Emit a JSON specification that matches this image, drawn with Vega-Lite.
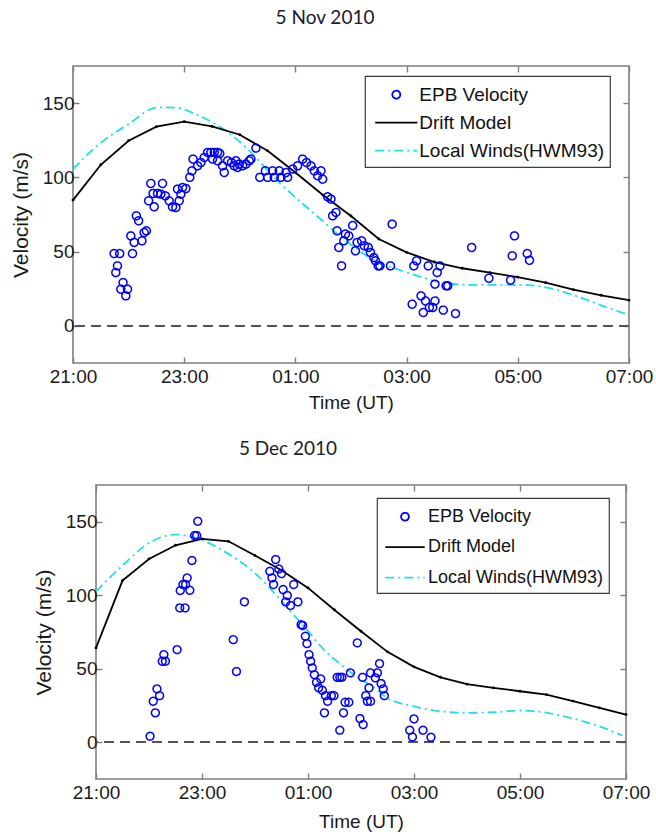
{
"$schema": "https://vega.github.io/schema/vega-lite/v6.json",
"padding": {"left": 8, "top": 8, "right": 2, "bottom": 2},
"background": "white",
"config": {
  "view": {"stroke": "#7f7f7f", "strokeWidth": 1.6},
  "axis": {"labelFont": "Liberation Sans", "titleFont": "Liberation Sans", "labelFontSize": 19, "titleFontSize": 19, "labelColor": "#1a1a1a", "titleColor": "#1a1a1a", "titleFontWeight": "normal", "grid": false, "domain": false, "tickColor": "#7f7f7f", "tickWidth": 1.4, "labelFlush": false, "labelOverlap": false},
  "legend": {"strokeWidth": 1.2}
},
"resolve": {"scale": {"color": "independent", "shape": "independent", "strokeDash": "independent"}, "legend": {"color": "independent", "shape": "independent", "strokeDash": "independent"}},
"datasets": {
  "nov": [
    {"series":"Drift Model","t":21.0,"v":84.7},{"series":"Drift Model","t":21.5,"v":108.5},{"series":"Drift Model","t":22.0,"v":124.7},{"series":"Drift Model","t":22.5,"v":134.1},{"series":"Drift Model","t":23.0,"v":137.5},{"series":"Drift Model","t":23.5,"v":134.3},{"series":"Drift Model","t":24.0,"v":128.7},{"series":"Drift Model","t":24.5,"v":117.9},{"series":"Drift Model","t":25.0,"v":103.3},{"series":"Drift Model","t":25.5,"v":88},{"series":"Drift Model","t":26.0,"v":74},{"series":"Drift Model","t":26.5,"v":58.5},{"series":"Drift Model","t":27.0,"v":49.5},{"series":"Drift Model","t":27.5,"v":43},{"series":"Drift Model","t":28.0,"v":38.8},{"series":"Drift Model","t":28.5,"v":35.9},{"series":"Drift Model","t":29.0,"v":32.8},{"series":"Drift Model","t":29.5,"v":29.1},{"series":"Drift Model","t":30.0,"v":24.4},{"series":"Drift Model","t":30.5,"v":20.6},{"series":"Drift Model","t":31.0,"v":17.3},
    {"series":"Local Winds(HWM93)","t":21.0,"v":105.6},{"series":"Local Winds(HWM93)","t":21.47,"v":122.4},{"series":"Local Winds(HWM93)","t":22.0,"v":135.9},{"series":"Local Winds(HWM93)","t":22.52,"v":147.1},{"series":"Local Winds(HWM93)","t":22.85,"v":147},{"series":"Local Winds(HWM93)","t":23.2,"v":142.6},{"series":"Local Winds(HWM93)","t":23.51,"v":137},{"series":"Local Winds(HWM93)","t":23.87,"v":128},{"series":"Local Winds(HWM93)","t":24.23,"v":115.7},{"series":"Local Winds(HWM93)","t":24.59,"v":101},{"series":"Local Winds(HWM93)","t":25.0,"v":86.5},{"series":"Local Winds(HWM93)","t":25.42,"v":73},{"series":"Local Winds(HWM93)","t":25.85,"v":59},{"series":"Local Winds(HWM93)","t":26.1,"v":52},{"series":"Local Winds(HWM93)","t":26.41,"v":44},{"series":"Local Winds(HWM93)","t":26.83,"v":38.2},{"series":"Local Winds(HWM93)","t":27.25,"v":33},{"series":"Local Winds(HWM93)","t":27.73,"v":28.5},{"series":"Local Winds(HWM93)","t":28.21,"v":27.6},{"series":"Local Winds(HWM93)","t":28.69,"v":27.6},{"series":"Local Winds(HWM93)","t":29.17,"v":27.4},{"series":"Local Winds(HWM93)","t":29.65,"v":24.7},{"series":"Local Winds(HWM93)","t":30.13,"v":19.1},{"series":"Local Winds(HWM93)","t":30.61,"v":12.3},{"series":"Local Winds(HWM93)","t":31.0,"v":7.4},
    {"series":"EPB Velocity","t":21.74,"v":48.7},{"series":"EPB Velocity","t":21.84,"v":48.7},{"series":"EPB Velocity","t":21.8,"v":40.4},{"series":"EPB Velocity","t":21.77,"v":35.9},{"series":"EPB Velocity","t":21.9,"v":29.2},{"series":"EPB Velocity","t":21.86,"v":24.7},{"series":"EPB Velocity","t":21.98,"v":24.7},{"series":"EPB Velocity","t":21.95,"v":20.2},{"series":"EPB Velocity","t":22.07,"v":48.7},{"series":"EPB Velocity","t":22.04,"v":60.6},{"series":"EPB Velocity","t":22.1,"v":56.2},{"series":"EPB Velocity","t":22.14,"v":74.1},{"series":"EPB Velocity","t":22.18,"v":70.8},{"series":"EPB Velocity","t":22.24,"v":57.3},{"series":"EPB Velocity","t":22.28,"v":62.9},{"series":"EPB Velocity","t":22.32,"v":64},{"series":"EPB Velocity","t":22.36,"v":84.2},{"series":"EPB Velocity","t":22.4,"v":95.9},{"series":"EPB Velocity","t":22.61,"v":95.9},{"series":"EPB Velocity","t":22.44,"v":89.2},{"series":"EPB Velocity","t":22.52,"v":89.2},{"series":"EPB Velocity","t":22.46,"v":80.2},{"series":"EPB Velocity","t":22.58,"v":88.7},{"series":"EPB Velocity","t":22.66,"v":87.6},{"series":"EPB Velocity","t":22.73,"v":84.2},{"series":"EPB Velocity","t":22.79,"v":80.2},{"series":"EPB Velocity","t":22.85,"v":79.7},{"series":"EPB Velocity","t":22.91,"v":84.2},{"series":"EPB Velocity","t":22.94,"v":88.7},{"series":"EPB Velocity","t":22.88,"v":92.1},{"series":"EPB Velocity","t":22.97,"v":93.2},{"series":"EPB Velocity","t":23.03,"v":92.5},{"series":"EPB Velocity","t":23.1,"v":100},{"series":"EPB Velocity","t":23.14,"v":104.4},{"series":"EPB Velocity","t":23.16,"v":112.3},{"series":"EPB Velocity","t":23.24,"v":107.8},{"series":"EPB Velocity","t":23.3,"v":110},{"series":"EPB Velocity","t":23.36,"v":113.4},{"series":"EPB Velocity","t":23.42,"v":116.8},{"series":"EPB Velocity","t":23.48,"v":116.8},{"series":"EPB Velocity","t":23.54,"v":116.8},{"series":"EPB Velocity","t":23.6,"v":116.8},{"series":"EPB Velocity","t":23.64,"v":116.1},{"series":"EPB Velocity","t":23.51,"v":112.3},{"series":"EPB Velocity","t":23.6,"v":111.2},{"series":"EPB Velocity","t":23.69,"v":107.8},{"series":"EPB Velocity","t":23.72,"v":103.3},{"series":"EPB Velocity","t":23.78,"v":111.2},{"series":"EPB Velocity","t":23.85,"v":110},{"series":"EPB Velocity","t":23.93,"v":111.2},{"series":"EPB Velocity","t":23.99,"v":108.9},{"series":"EPB Velocity","t":24.05,"v":107.8},{"series":"EPB Velocity","t":24.11,"v":108.9},{"series":"EPB Velocity","t":24.17,"v":111.2},{"series":"EPB Velocity","t":24.2,"v":112.3},{"series":"EPB Velocity","t":23.9,"v":107.8},{"series":"EPB Velocity","t":23.96,"v":106.7},{"series":"EPB Velocity","t":24.29,"v":119.7},{"series":"EPB Velocity","t":24.36,"v":100},{"series":"EPB Velocity","t":24.5,"v":100},{"series":"EPB Velocity","t":24.62,"v":100},{"series":"EPB Velocity","t":24.74,"v":100},{"series":"EPB Velocity","t":24.86,"v":100},{"series":"EPB Velocity","t":24.46,"v":104.4},{"series":"EPB Velocity","t":24.59,"v":104.4},{"series":"EPB Velocity","t":24.71,"v":104.4},{"series":"EPB Velocity","t":24.83,"v":103.3},{"series":"EPB Velocity","t":24.95,"v":105.6},{"series":"EPB Velocity","t":25.04,"v":107.8},{"series":"EPB Velocity","t":25.13,"v":112.3},{"series":"EPB Velocity","t":25.2,"v":110},{"series":"EPB Velocity","t":25.28,"v":107.8},{"series":"EPB Velocity","t":25.34,"v":104.4},{"series":"EPB Velocity","t":25.4,"v":101.1},{"series":"EPB Velocity","t":25.46,"v":104.4},{"series":"EPB Velocity","t":25.49,"v":98.8},{"series":"EPB Velocity","t":25.58,"v":86.9},{"series":"EPB Velocity","t":25.64,"v":85.4},{"series":"EPB Velocity","t":25.67,"v":74.1},{"series":"EPB Velocity","t":25.73,"v":76.4},{"series":"EPB Velocity","t":25.75,"v":64},{"series":"EPB Velocity","t":25.78,"v":52.8},{"series":"EPB Velocity","t":25.83,"v":40.4},{"series":"EPB Velocity","t":25.87,"v":57.3},{"series":"EPB Velocity","t":25.96,"v":60.6},{"series":"EPB Velocity","t":25.9,"v":61.8},{"series":"EPB Velocity","t":26.03,"v":67.6},{"series":"EPB Velocity","t":26.08,"v":50.5},{"series":"EPB Velocity","t":26.11,"v":56.2},{"series":"EPB Velocity","t":26.19,"v":57.3},{"series":"EPB Velocity","t":26.24,"v":53.9},{"series":"EPB Velocity","t":26.31,"v":52.8},{"series":"EPB Velocity","t":26.35,"v":49.4},{"series":"EPB Velocity","t":26.41,"v":46},{"series":"EPB Velocity","t":26.44,"v":43.8},{"series":"EPB Velocity","t":26.49,"v":40.4},{"series":"EPB Velocity","t":26.52,"v":40.4},{"series":"EPB Velocity","t":26.71,"v":40.4},{"series":"EPB Velocity","t":26.74,"v":68.5},{"series":"EPB Velocity","t":27.1,"v":14.6},{"series":"EPB Velocity","t":27.26,"v":20.2},{"series":"EPB Velocity","t":27.13,"v":40.4},{"series":"EPB Velocity","t":27.18,"v":43.8},{"series":"EPB Velocity","t":27.3,"v":9},{"series":"EPB Velocity","t":27.34,"v":16.8},{"series":"EPB Velocity","t":27.41,"v":12.4},{"series":"EPB Velocity","t":27.47,"v":12.4},{"series":"EPB Velocity","t":27.51,"v":16.8},{"series":"EPB Velocity","t":27.39,"v":40.4},{"series":"EPB Velocity","t":27.51,"v":28.1},{"series":"EPB Velocity","t":27.55,"v":35.9},{"series":"EPB Velocity","t":27.6,"v":40.4},{"series":"EPB Velocity","t":27.66,"v":10.6},{"series":"EPB Velocity","t":27.71,"v":27},{"series":"EPB Velocity","t":27.74,"v":27},{"series":"EPB Velocity","t":27.88,"v":8.3},{"series":"EPB Velocity","t":28.17,"v":52.8},{"series":"EPB Velocity","t":28.48,"v":32.1},{"series":"EPB Velocity","t":28.87,"v":30.8},{"series":"EPB Velocity","t":28.9,"v":47.2},{"series":"EPB Velocity","t":28.94,"v":60.6},{"series":"EPB Velocity","t":29.17,"v":48.7},{"series":"EPB Velocity","t":29.21,"v":44.2}
  ],
  "dec": [
    {"series":"Drift Model","t":21.0,"v":64.2},{"series":"Drift Model","t":21.5,"v":110},{"series":"Drift Model","t":22.0,"v":124.7},{"series":"Drift Model","t":22.5,"v":134},{"series":"Drift Model","t":23.0,"v":138.4},{"series":"Drift Model","t":23.5,"v":136.7},{"series":"Drift Model","t":24.0,"v":127},{"series":"Drift Model","t":24.5,"v":117},{"series":"Drift Model","t":25.0,"v":105},{"series":"Drift Model","t":25.5,"v":90},{"series":"Drift Model","t":26.0,"v":75.5},{"series":"Drift Model","t":26.5,"v":61.5},{"series":"Drift Model","t":27.0,"v":51.3},{"series":"Drift Model","t":27.5,"v":44.2},{"series":"Drift Model","t":28.0,"v":39.5},{"series":"Drift Model","t":28.5,"v":37},{"series":"Drift Model","t":29.0,"v":34.7},{"series":"Drift Model","t":29.5,"v":32.4},{"series":"Drift Model","t":30.0,"v":28},{"series":"Drift Model","t":30.5,"v":23.4},{"series":"Drift Model","t":31.0,"v":18.8},
    {"series":"Local Winds(HWM93)","t":21.0,"v":102.7},{"series":"Local Winds(HWM93)","t":21.52,"v":120.9},{"series":"Local Winds(HWM93)","t":22.0,"v":135.6},{"series":"Local Winds(HWM93)","t":22.5,"v":141.3},{"series":"Local Winds(HWM93)","t":23.0,"v":137.5},{"series":"Local Winds(HWM93)","t":23.41,"v":130},{"series":"Local Winds(HWM93)","t":23.92,"v":117.5},{"series":"Local Winds(HWM93)","t":24.42,"v":99.3},{"series":"Local Winds(HWM93)","t":24.67,"v":89},{"series":"Local Winds(HWM93)","t":24.92,"v":79},{"series":"Local Winds(HWM93)","t":25.3,"v":63},{"series":"Local Winds(HWM93)","t":25.74,"v":49.5},{"series":"Local Winds(HWM93)","t":26.02,"v":42},{"series":"Local Winds(HWM93)","t":26.18,"v":39},{"series":"Local Winds(HWM93)","t":26.49,"v":30.2},{"series":"Local Winds(HWM93)","t":26.98,"v":24.5},{"series":"Local Winds(HWM93)","t":27.48,"v":21.1},{"series":"Local Winds(HWM93)","t":27.98,"v":20},{"series":"Local Winds(HWM93)","t":28.49,"v":20.4},{"series":"Local Winds(HWM93)","t":28.98,"v":21.6},{"series":"Local Winds(HWM93)","t":29.45,"v":20.4},{"series":"Local Winds(HWM93)","t":29.95,"v":16.6},{"series":"Local Winds(HWM93)","t":30.49,"v":10.9},{"series":"Local Winds(HWM93)","t":30.93,"v":4.6},
    {"series":"EPB Velocity","t":22.02,"v":4.1},{"series":"EPB Velocity","t":22.12,"v":20},{"series":"EPB Velocity","t":22.08,"v":27.9},{"series":"EPB Velocity","t":22.15,"v":36.3},{"series":"EPB Velocity","t":22.2,"v":31.7},{"series":"EPB Velocity","t":22.25,"v":55.1},{"series":"EPB Velocity","t":22.31,"v":55.1},{"series":"EPB Velocity","t":22.28,"v":59.6},{"series":"EPB Velocity","t":22.53,"v":63},{"series":"EPB Velocity","t":22.58,"v":91.4},{"series":"EPB Velocity","t":22.68,"v":91.4},{"series":"EPB Velocity","t":22.59,"v":103.2},{"series":"EPB Velocity","t":22.64,"v":107.3},{"series":"EPB Velocity","t":22.72,"v":111.8},{"series":"EPB Velocity","t":22.77,"v":103.4},{"series":"EPB Velocity","t":22.69,"v":107.3},{"series":"EPB Velocity","t":22.81,"v":123.6},{"series":"EPB Velocity","t":22.86,"v":140.6},{"series":"EPB Velocity","t":22.9,"v":140.6},{"series":"EPB Velocity","t":22.92,"v":150.3},{"series":"EPB Velocity","t":23.59,"v":69.8},{"series":"EPB Velocity","t":23.65,"v":48.1},{"series":"EPB Velocity","t":23.8,"v":95.5},{"series":"EPB Velocity","t":24.28,"v":116.3},{"series":"EPB Velocity","t":24.32,"v":111.8},{"series":"EPB Velocity","t":24.35,"v":107.3},{"series":"EPB Velocity","t":24.39,"v":124.3},{"series":"EPB Velocity","t":24.45,"v":117.9},{"series":"EPB Velocity","t":24.5,"v":114.7},{"series":"EPB Velocity","t":24.53,"v":103.9},{"series":"EPB Velocity","t":24.61,"v":99.8},{"series":"EPB Velocity","t":24.58,"v":95.5},{"series":"EPB Velocity","t":24.67,"v":93},{"series":"EPB Velocity","t":24.73,"v":107.3},{"series":"EPB Velocity","t":24.81,"v":95.5},{"series":"EPB Velocity","t":24.87,"v":80},{"series":"EPB Velocity","t":24.9,"v":79.4},{"series":"EPB Velocity","t":24.95,"v":72.1},{"series":"EPB Velocity","t":24.98,"v":67.1},{"series":"EPB Velocity","t":25.02,"v":59.6},{"series":"EPB Velocity","t":25.05,"v":55.1},{"series":"EPB Velocity","t":25.08,"v":50.6},{"series":"EPB Velocity","t":25.12,"v":46},{"series":"EPB Velocity","t":25.16,"v":40.8},{"series":"EPB Velocity","t":25.24,"v":43.1},{"series":"EPB Velocity","t":25.2,"v":37},{"series":"EPB Velocity","t":25.27,"v":35.4},{"series":"EPB Velocity","t":25.33,"v":31.7},{"series":"EPB Velocity","t":25.37,"v":27.9},{"series":"EPB Velocity","t":25.31,"v":20},{"series":"EPB Velocity","t":25.44,"v":31.7},{"series":"EPB Velocity","t":25.49,"v":31.7},{"series":"EPB Velocity","t":25.55,"v":44.2},{"series":"EPB Velocity","t":25.6,"v":44.2},{"series":"EPB Velocity","t":25.64,"v":44.2},{"series":"EPB Velocity","t":25.6,"v":8.2},{"series":"EPB Velocity","t":25.7,"v":27.2},{"series":"EPB Velocity","t":25.67,"v":20},{"series":"EPB Velocity","t":25.77,"v":27.2},{"series":"EPB Velocity","t":25.8,"v":47.2},{"series":"EPB Velocity","t":25.93,"v":67.6},{"series":"EPB Velocity","t":25.98,"v":16.1},{"series":"EPB Velocity","t":26.04,"v":12},{"series":"EPB Velocity","t":26.03,"v":44.2},{"series":"EPB Velocity","t":26.09,"v":31.7},{"series":"EPB Velocity","t":26.15,"v":37},{"series":"EPB Velocity","t":26.18,"v":47.2},{"series":"EPB Velocity","t":26.12,"v":27.9},{"series":"EPB Velocity","t":26.18,"v":27.9},{"series":"EPB Velocity","t":26.27,"v":43.8},{"series":"EPB Velocity","t":26.31,"v":47.2},{"series":"EPB Velocity","t":26.35,"v":53.5},{"series":"EPB Velocity","t":26.38,"v":39.9},{"series":"EPB Velocity","t":26.42,"v":36.3},{"series":"EPB Velocity","t":26.44,"v":31.7},{"series":"EPB Velocity","t":26.92,"v":8.2},{"series":"EPB Velocity","t":27.0,"v":15.9},{"series":"EPB Velocity","t":26.97,"v":3.6},{"series":"EPB Velocity","t":27.17,"v":8.2},{"series":"EPB Velocity","t":27.32,"v":3.4}
  ]
},
"spacing": 26,
"vconcat": [
  {"spacing": 0,
   "resolve": {"scale": {"color": "independent", "shape": "independent", "strokeDash": "independent"}, "legend": {"color": "independent", "shape": "independent", "strokeDash": "independent"}},
   "hconcat": [
    {"width": 1, "height": 10, "data": {"values": []}, "mark": "point", "view": {"stroke": null}},
    {"width": 556, "height": 297, "data": {"name": "nov"},
     "title": {"text": "5 Nov 2010", "font": "Lato", "fontSize": 19, "fontWeight": "normal", "color": "#1b1b2b", "anchor": "middle", "frame": "group", "dx": -26, "baseline": "alphabetic", "offset": 22},
     "resolve": {"axis": {"x": "independent", "y": "independent"}},
     "layer": [
      {"mark": {"type": "rule", "color": "#555555", "strokeDash": [10, 6], "strokeWidth": 1.3},
       "encoding": {"y": {"datum": 0, "type": "quantitative", "scale": {"domain": [-25, 175], "nice": false, "zero": false}, "axis": null}}},
      {"transform": [{"filter": "datum.series === 'Local Winds(HWM93)'"}],
       "mark": {"type": "line", "interpolate": "monotone", "color": "#1fe0e6", "strokeWidth": 1.8, "strokeDash": [9, 4, 2, 4]},
       "encoding": {
         "x": {"field": "t", "type": "quantitative", "scale": {"domain": [21, 31], "nice": false, "zero": false}, "axis": {"orient": "top", "values": [21, 23, 25, 27, 29, 31], "labels": false, "title": null, "tickSize": -6}},
         "y": {"field": "v", "type": "quantitative", "scale": {"domain": [-25, 175], "nice": false, "zero": false}, "axis": {"orient": "right", "values": [0, 50, 100, 150], "labels": false, "title": null, "tickSize": -6, "minExtent": 0}}}},
      {"transform": [{"filter": "datum.series === 'Drift Model'"}],
       "mark": {"type": "line", "color": "black", "strokeWidth": 1.8, "point": {"filled": true, "size": 8, "color": "black"}},
       "encoding": {
         "x": {"field": "t", "type": "quantitative", "axis": null},
         "y": {"field": "v", "type": "quantitative", "axis": null}}},
      {"transform": [{"filter": "datum.series === 'EPB Velocity'"}],
       "mark": {"type": "point", "filled": false, "size": 548, "strokeWidth": 1.5, "opacity": 1},
       "encoding": {
         "x": {"field": "t", "type": "quantitative", "axis": {"orient": "bottom", "values": [21, 23, 25, 27, 29, 31], "labelExpr": "(datum.value % 24 < 10 ? '0' : '') + (datum.value % 24) + ':00'", "title": "Time (UT)", "tickSize": -6, "labelPadding": 10, "titlePadding": 7}},
         "y": {"field": "v", "type": "quantitative", "axis": {"orient": "left", "values": [0, 50, 100, 150], "title": "Velocity (m/s)", "titleFontSize": 21, "tickSize": -6, "labelPadding": 5, "titlePadding": 11}},
         "color": {"field": "series", "type": "nominal", "scale": {"domain": ["EPB Velocity", "Drift Model", "Local Winds(HWM93)"], "range": ["#0000ff", "#000000", "#1fe0e6"]},
           "legend": {"orient": "none", "legendX": 292, "legendY": 10, "title": null, "direction": "vertical", "strokeColor": "#3c3c3c", "fillColor": "white", "padding": 5.6, "labelFont": "Liberation Sans", "labelFontSize": 19, "labelColor": "#111111", "labelLimit": 400, "symbolSize": 548, "symbolStrokeWidth": 1.8, "symbolOffset": 12.7, "labelOffset": 10, "rowPadding": 5}},
         "shape": {"field": "series", "type": "nominal", "scale": {"domain": ["EPB Velocity", "Drift Model", "Local Winds(HWM93)"], "range": ["M-0.34,0A0.34,0.34 0 1 1 0.34,0A0.34,0.34 0 1 1 -0.34,0Z", "M-1.8,0L1.8,0", "M-1.8,0L1.8,0"]},
           "legend": {"orient": "none", "legendX": 292, "legendY": 10, "title": null, "direction": "vertical", "strokeColor": "#3c3c3c", "fillColor": "white", "padding": 5.6, "labelFont": "Liberation Sans", "labelFontSize": 19, "labelColor": "#111111", "labelLimit": 400, "symbolSize": 548, "symbolStrokeWidth": 1.8, "symbolOffset": 12.7, "labelOffset": 10, "rowPadding": 5}},
         "strokeDash": {"field": "series", "type": "nominal", "scale": {"domain": ["EPB Velocity", "Drift Model", "Local Winds(HWM93)"], "range": [[1, 0], [1, 0], [9, 4, 2, 4]]},
           "legend": {"orient": "none", "legendX": 292, "legendY": 10, "title": null, "direction": "vertical", "strokeColor": "#3c3c3c", "fillColor": "white", "padding": 5.6, "labelFont": "Liberation Sans", "labelFontSize": 19, "labelColor": "#111111", "labelLimit": 400, "symbolSize": 548, "symbolStrokeWidth": 1.8, "symbolOffset": 12.7, "labelOffset": 10, "rowPadding": 5}}}}
     ]}
  ]},
  {"spacing": 0,
   "resolve": {"scale": {"color": "independent", "shape": "independent", "strokeDash": "independent"}, "legend": {"color": "independent", "shape": "independent", "strokeDash": "independent"}},
   "hconcat": [
    {"width": 24, "height": 10, "data": {"values": []}, "mark": "point", "view": {"stroke": null}},
    {"width": 530, "height": 294, "data": {"name": "dec"},
     "title": {"text": "5 Dec 2010", "font": "Lato", "fontSize": 19, "fontWeight": "normal", "color": "#1b1b2b", "anchor": "middle", "frame": "group", "dx": -73, "baseline": "alphabetic", "offset": 10},
     "resolve": {"axis": {"x": "independent", "y": "independent"}},
     "layer": [
      {"mark": {"type": "rule", "color": "#555555", "strokeDash": [10, 6], "strokeWidth": 1.3},
       "encoding": {"y": {"datum": 0, "type": "quantitative", "scale": {"domain": [-25, 175], "nice": false, "zero": false}, "axis": null}}},
      {"transform": [{"filter": "datum.series === 'Local Winds(HWM93)'"}],
       "mark": {"type": "line", "interpolate": "monotone", "color": "#1fe0e6", "strokeWidth": 1.8, "strokeDash": [9, 4, 2, 4]},
       "encoding": {
         "x": {"field": "t", "type": "quantitative", "scale": {"domain": [21, 31], "nice": false, "zero": false}, "axis": {"orient": "top", "values": [21, 23, 25, 27, 29, 31], "labels": false, "title": null, "tickSize": -6}},
         "y": {"field": "v", "type": "quantitative", "scale": {"domain": [-25, 175], "nice": false, "zero": false}, "axis": {"orient": "right", "values": [0, 50, 100, 150], "labels": false, "title": null, "tickSize": -6, "minExtent": 0}}}},
      {"transform": [{"filter": "datum.series === 'Drift Model'"}],
       "mark": {"type": "line", "color": "black", "strokeWidth": 1.8, "point": {"filled": true, "size": 8, "color": "black"}},
       "encoding": {
         "x": {"field": "t", "type": "quantitative", "axis": null},
         "y": {"field": "v", "type": "quantitative", "axis": null}}},
      {"transform": [{"filter": "datum.series === 'EPB Velocity'"}],
       "mark": {"type": "point", "filled": false, "size": 576, "strokeWidth": 1.5, "opacity": 1},
       "encoding": {
         "x": {"field": "t", "type": "quantitative", "axis": {"orient": "bottom", "values": [21, 23, 25, 27, 29, 31], "labelExpr": "(datum.value % 24 < 10 ? '0' : '') + (datum.value % 24) + ':00'", "title": "Time (UT)", "tickSize": -6, "labelPadding": 10, "titlePadding": 10}},
         "y": {"field": "v", "type": "quantitative", "axis": {"orient": "left", "values": [0, 50, 100, 150], "title": "Velocity (m/s)", "titleFontSize": 21, "tickSize": -6, "labelPadding": 5, "titlePadding": 11}},
         "color": {"field": "series", "type": "nominal", "scale": {"domain": ["EPB Velocity", "Drift Model", "Local Winds(HWM93)"], "range": ["#0000ff", "#000000", "#1fe0e6"]},
           "legend": {"orient": "none", "legendX": 281, "legendY": 13, "title": null, "direction": "vertical", "strokeColor": "#3c3c3c", "fillColor": "white", "padding": 5.7, "labelFont": "Liberation Sans", "labelFontSize": 18, "labelColor": "#111111", "labelLimit": 400, "symbolSize": 576, "symbolStrokeWidth": 1.8, "symbolOffset": 9.3, "labelOffset": 10, "rowPadding": 8.5}},
         "shape": {"field": "series", "type": "nominal", "scale": {"domain": ["EPB Velocity", "Drift Model", "Local Winds(HWM93)"], "range": ["M-0.325,0A0.325,0.325 0 1 1 0.325,0A0.325,0.325 0 1 1 -0.325,0Z", "M-1.64,0L1.64,0", "M-1.64,0L1.64,0"]},
           "legend": {"orient": "none", "legendX": 281, "legendY": 13, "title": null, "direction": "vertical", "strokeColor": "#3c3c3c", "fillColor": "white", "padding": 5.7, "labelFont": "Liberation Sans", "labelFontSize": 18, "labelColor": "#111111", "labelLimit": 400, "symbolSize": 576, "symbolStrokeWidth": 1.8, "symbolOffset": 9.3, "labelOffset": 10, "rowPadding": 8.5}},
         "strokeDash": {"field": "series", "type": "nominal", "scale": {"domain": ["EPB Velocity", "Drift Model", "Local Winds(HWM93)"], "range": [[1, 0], [1, 0], [9, 4, 2, 4]]},
           "legend": {"orient": "none", "legendX": 281, "legendY": 13, "title": null, "direction": "vertical", "strokeColor": "#3c3c3c", "fillColor": "white", "padding": 5.7, "labelFont": "Liberation Sans", "labelFontSize": 18, "labelColor": "#111111", "labelLimit": 400, "symbolSize": 576, "symbolStrokeWidth": 1.8, "symbolOffset": 9.3, "labelOffset": 10, "rowPadding": 8.5}}}}
     ]}
  ]}
]
}
